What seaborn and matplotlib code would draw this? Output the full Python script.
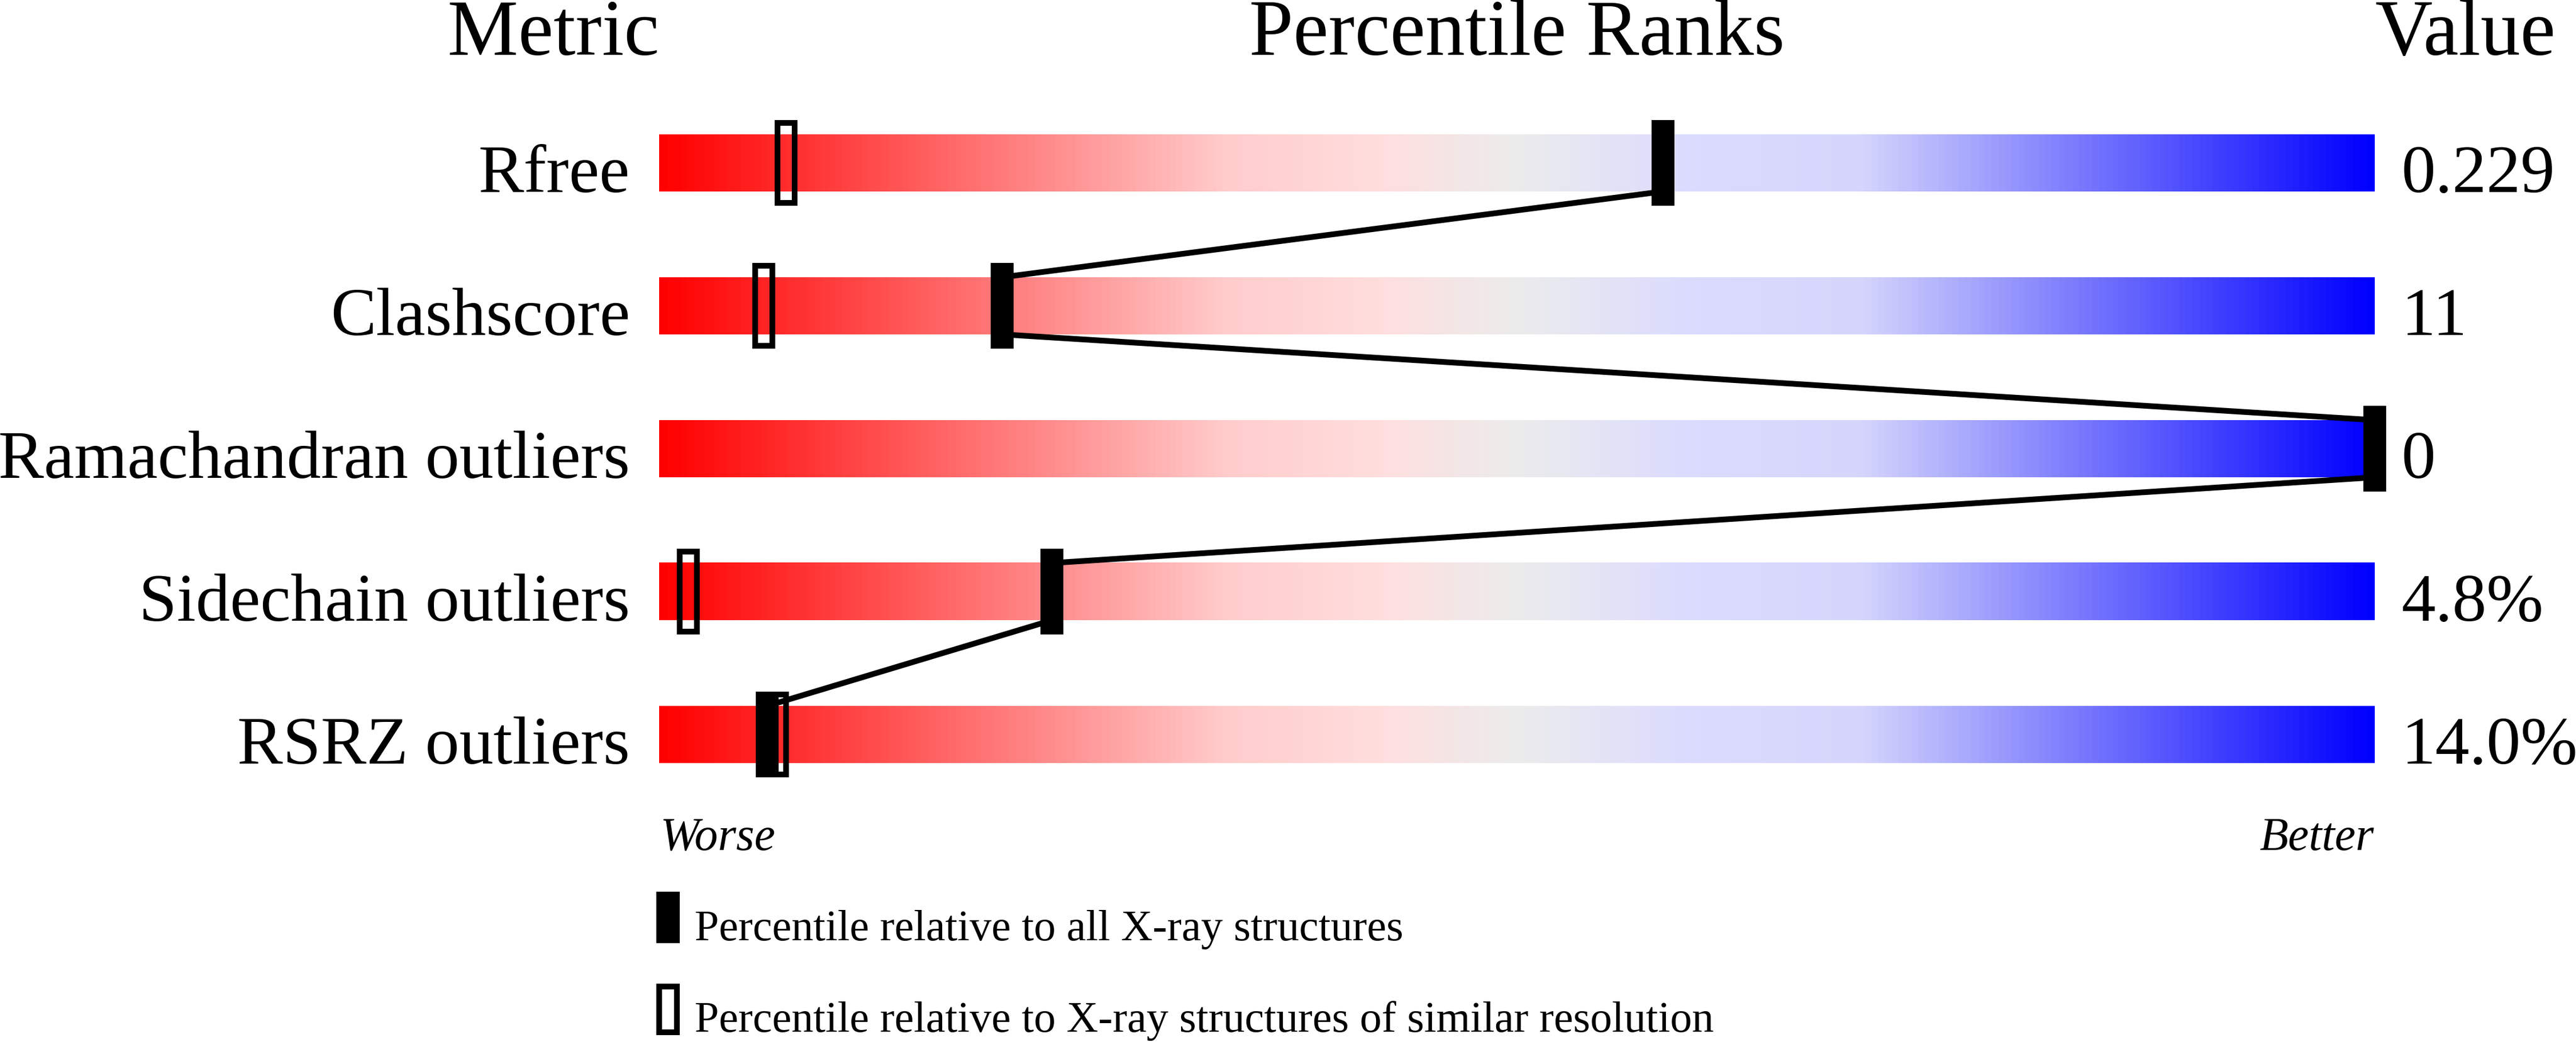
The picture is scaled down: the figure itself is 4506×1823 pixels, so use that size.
"""Percentile-rank slider chart (validation summary style)."""

import matplotlib.pyplot as plt
import numpy as np
import seaborn as sns
from matplotlib.colors import LinearSegmentedColormap
from matplotlib.patches import Rectangle

metrics = ["Rfree", "Clashscore", "Ramachandran outliers",
           "Sidechain outliers", "RSRZ outliers"]
value_labels = ["0.229", "11", "0", "4.8%", "14.0%"]
pct_all = [58.5, 20.0, 100.0, 22.9, 6.3]          # vs all X-ray structures
pct_similar = [7.4, 6.1, np.nan, 1.7, 6.9]        # vs similar resolution
legend_labels = ["Percentile relative to all X-ray structures",
                 "Percentile relative to X-ray structures of similar resolution"]

W, H, DPI = 4506, 1824, 100
BAR_H = 0.4
MARK_H = 0.6
STROKE = 7.2  # pt, ~10 px at 100 dpi

sns.set_theme(style="white")
plt.rcParams["font.family"] = "serif"
plt.rcParams["font.serif"] = ["Liberation Serif", "DejaVu Serif"]
plt.rcParams["text.color"] = "black"

slider = LinearSegmentedColormap.from_list("slider", [
    (0.00, (1.00, 0.00, 0.00)),
    (0.33, (1.00, 0.80, 0.80)),
    (0.42, (1.00, 0.87, 0.87)),
    (0.50, (0.925, 0.925, 0.925)),
    (0.60, (0.86, 0.86, 1.00)),
    (0.70, (0.84, 0.84, 0.99)),
    (1.00, (0.00, 0.00, 1.00)),
])

fig = plt.figure(figsize=(W / DPI, H / DPI), dpi=DPI)
ax = fig.add_axes([0, 0, 1, 1])
ax.set_axis_off()

rows = np.arange(len(metrics))
grad = np.linspace(0, 1, 512)[None, :]
for r in rows:
    ax.imshow(grad, cmap=slider, aspect="auto", interpolation="bilinear",
              extent=[0, 100, r + BAR_H / 2, r - BAR_H / 2], zorder=1)

# path joining the "all structures" markers: bar top -> bar bottom per row
xs, ys = [], []
for r, p in zip(rows, pct_all):
    xs += [p, p]
    ys += [r - BAR_H / 2, r + BAR_H / 2]
sns.lineplot(x=xs, y=ys, sort=False, estimator=None, color="black", ax=ax)
for ln in ax.lines:
    ln.set_linewidth(STROKE)
    ln.set_zorder(2)

for r, p in zip(rows, pct_all):
    ax.add_patch(Rectangle((p - 0.665, r - MARK_H / 2), 1.33, MARK_H,
                           facecolor="black", edgecolor="none", zorder=3))
for r, p in zip(rows, pct_similar):
    if np.isnan(p):
        continue
    ax.add_patch(Rectangle((p - 0.5, r - 0.28), 1.0, 0.56,
                           facecolor="none", edgecolor="black",
                           linewidth=STROKE, zorder=4))

# text
for r, name, val in zip(rows, metrics, value_labels):
    ax.text(-1.7, r + BAR_H / 2, name, ha="right", va="baseline",
            fontsize=86, color="black")
    ax.text(101.55, r + BAR_H / 2, val, ha="left", va="baseline",
            fontsize=86, color="black")

ax.text(0, -0.76, "Metric", ha="right", va="baseline", fontsize=100)
ax.text(50, -0.76, "Percentile Ranks", ha="center", va="baseline", fontsize=100)
ax.text(100, -0.76, "Value", ha="left", va="baseline", fontsize=100)

ax.text(0.05, 4.804, "Worse", ha="left", va="baseline", fontsize=59,
        style="italic")
ax.text(99.95, 4.804, "Better", ha="right", va="baseline", fontsize=59,
        style="italic")

# legend keys
ax.add_patch(Rectangle((-0.17, 5.1), 1.37, 0.36, facecolor="black",
                       edgecolor="none"))
ax.add_patch(Rectangle((0.005, 5.764), 1.03, 0.32, facecolor="none",
                       edgecolor="black", linewidth=STROKE))
ax.text(2.07, 5.436, legend_labels[0], ha="left", va="baseline", fontsize=55)
ax.text(2.07, 6.076, legend_labels[1], ha="left", va="baseline", fontsize=55)

ax.set_xlim(-1153 / 30.01, (W - 1153) / 30.01)
ax.set_ylim((H - 286) / 250, -286 / 250)
ax.set_xlabel("")
ax.set_ylabel("")

fig.savefig("out.png", dpi=DPI)
